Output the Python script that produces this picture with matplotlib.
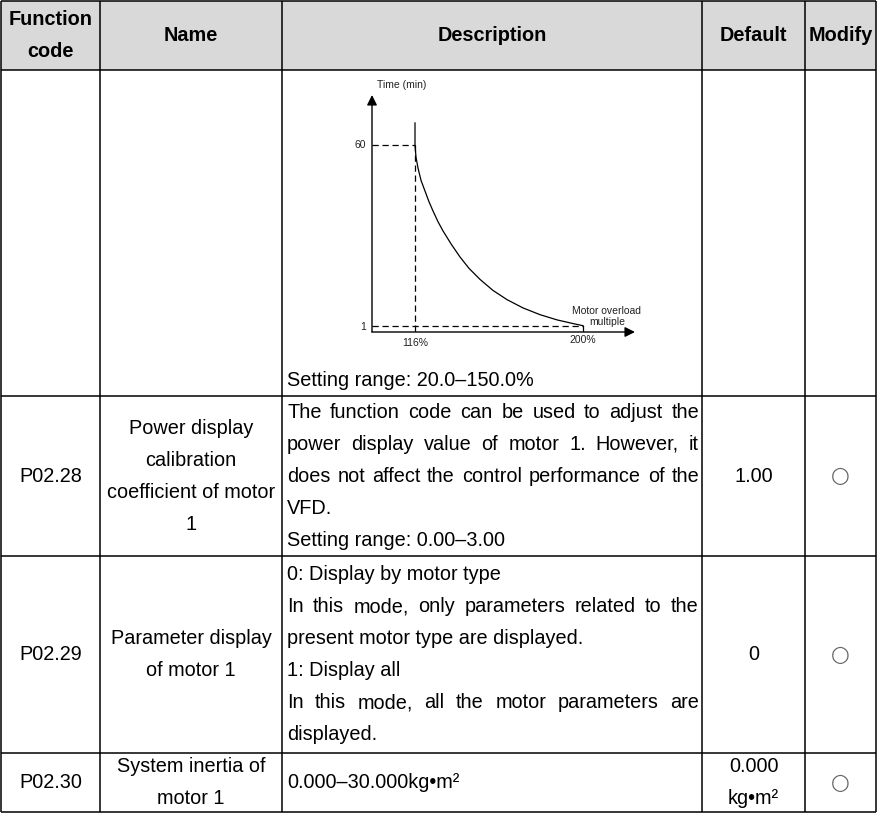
import matplotlib
matplotlib.use("Agg")
import matplotlib.pyplot as plt
from matplotlib.patches import Rectangle

# table content
headers = [["Function", "code"], ["Name"], ["Description"], ["Default"], ["Modify"]]
codes = ["", "P02.28", "P02.29", "P02.30"]
names = [[], ["Power display", "calibration", "coefficient of motor", "1"],
         ["Parameter display", "of motor 1"], ["System inertia of", "motor 1"]]
desc_p0228 = [("The function code can be used to adjust the", True),
              ("power display value of motor 1. However, it", True),
              ("does not affect the control performance of the", True),
              ("VFD.", False),
              ("Setting range: 0.00–3.00", False)]
desc_p0229 = [("0: Display by motor type", False),
              ("In this mode, only parameters related to the", True),
              ("present motor type are displayed.", False),
              ("1: Display all", False),
              ("In this mode, all the motor parameters are", True),
              ("displayed.", False)]
desc_p0230 = [("0.000–30.000kg•m²", False)]
defaults = [[], ["1.00"], ["0"], ["0.000", "kg•m²"]]
setting_p0227 = "Setting range: 20.0–150.0%"

# overload curve
overload_pct = [116, 116, 116.5, 117.5, 119, 121, 123, 125, 127.5, 130, 134, 138.5,
                143, 148.5, 155, 162, 170, 178.5, 187, 195, 200]
time_min = [67.2, 60, 56, 52.5, 48.5, 45, 41.5, 38.5, 35, 32, 27.8, 23.5,
            19.8, 16.2, 12.6, 9.6, 6.9, 4.7, 3.0, 1.8, 1.1]

plt.rcParams['font.family'] = ['Liberation Sans', 'DejaVu Sans']

W, H = 877, 813
fig = plt.figure(figsize=(W / 100, H / 100), dpi=100)
ax = fig.add_axes([0, 0, 1, 1])
ax.set_xlim(0, W)
ax.set_ylim(H, 0)
ax.axis('off')
renderer = fig.canvas.get_renderer()

col_x = [1, 100, 282, 702, 805, 876]
row_y = [1, 70, 396, 556, 753, 812]
pitch = 32
fs = 14.3

# header background + grid
ax.add_patch(Rectangle((col_x[0], row_y[0]), col_x[-1] - col_x[0], row_y[1] - row_y[0],
                       facecolor='#d9d9d9', edgecolor='none'))
for y in row_y:
    ax.hlines(y, col_x[0], col_x[-1], color='black', lw=1.1)
for x in col_x:
    ax.vlines(x, row_y[0], row_y[-1], color='black', lw=1.1)


def centers(lines, top, bottom):
    mid = (top + bottom) / 2
    n = len(lines)
    return [mid + (i - (n - 1) / 2) * pitch for i in range(n)]


def put_block(lines, ci, ri, **kw):
    xc = (col_x[ci] + col_x[ci + 1]) / 2
    for t, y in zip(lines, centers(lines, row_y[ri], row_y[ri + 1])):
        ax.text(xc, y, t, ha='center', va='center', fontsize=fs, **kw)


def draw_line(text, y, justify, x0=287, x1=699):
    if not justify:
        ax.text(x0, y, text, ha='left', va='center', fontsize=fs)
        return
    words = text.split(' ')
    arts = [ax.text(0, y, w, ha='left', va='center', fontsize=fs) for w in words]
    widths = [a.get_window_extent(renderer).width for a in arts]
    gap = (x1 - x0 - sum(widths)) / (len(words) - 1)
    x = x0
    for a, w in zip(arts, widths):
        a.set_x(x)
        x += w + gap


# header
for ci, h in enumerate(headers):
    put_block(h, ci, 0, fontweight='bold')

# body rows
for ri in range(1, 4):
    put_block([codes[ri]] if codes[ri] else [], 0, ri + 1)
    put_block(names[ri], 1, ri + 1)
    put_block(defaults[ri], 3, ri + 1)
    xc = (col_x[4] + col_x[5]) / 2
    ax.text(xc, (row_y[ri + 1] + row_y[ri + 2]) / 2, "○", ha='center', va='center',
            fontsize=15.5, color='#666666', family=['DejaVu Sans'])

for block, ri in [(desc_p0228, 2), (desc_p0229, 3), (desc_p0230, 4)]:
    ys = centers(block, row_y[ri], row_y[ri + 1])
    for (t, j), y in zip(block, ys):
        draw_line(t, y, j)

draw_line(setting_p0227, row_y[2] - pitch / 2, False)

# overload chart
px_l, px_r, px_t, px_b = 372, 635, 95, 332
ax2 = fig.add_axes([px_l / W, 1 - px_b / H, (px_r - px_l) / W, (px_b - px_t) / H])
ax2.set_xlim(94.5, 226)
ax2.set_ylim(-0.95, 76.3)
ax2.axis('off')
ax2.patch.set_alpha(0)

arrow = dict(arrowstyle='-|>', color='black', lw=1.0, mutation_scale=15, shrinkA=0, shrinkB=0)
ax2.annotate('', xy=(0, 1), xytext=(0, 0), xycoords='axes fraction', arrowprops=arrow)
ax2.annotate('', xy=(1, 0), xytext=(0, 0), xycoords='axes fraction', arrowprops=arrow)

dash = dict(color='black', lw=0.9, linestyle=(0, (5, 3)))
ax2.plot([94.5, overload_pct[1]], [time_min[1], time_min[1]], **dash)
ax2.plot([overload_pct[1], overload_pct[1]], [time_min[1], -0.95], **dash)
ax2.plot([94.5, overload_pct[-1]], [1, 1], **dash)
ax2.plot([overload_pct[-1], overload_pct[-1]], [-0.95, 1], color='black', lw=0.9)
ax2.plot(overload_pct, time_min, color='black', lw=0.9)

cfs = 7.5
tc = '#222222'
ax2.text(97, 79.5, "Time (min)", ha='left', va='center', fontsize=cfs, color=tc, clip_on=False)
ax2.text(91.5, 60, "60", ha='right', va='center', fontsize=cfs, color=tc)
ax2.text(91.5, 0.6, "1", ha='right', va='center', fontsize=cfs, color=tc)
ax2.text(116, -4.6, "116%", ha='center', va='center', fontsize=cfs, color=tc, clip_on=False)
ax2.text(200, -3.6, "200%", ha='center', va='center', fontsize=cfs, color=tc, clip_on=False)
ax2.text(212, 5.9, "Motor overload", ha='center', va='center', fontsize=cfs, color=tc, clip_on=False)
ax2.text(212, 2.3, "multiple", ha='center', va='center', fontsize=cfs, color=tc, clip_on=False)

fig.savefig("out.png", dpi=100)
